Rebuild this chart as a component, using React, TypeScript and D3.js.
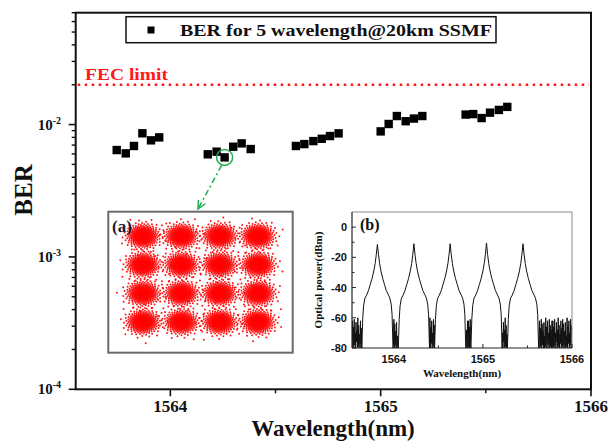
import React, { useMemo } from 'react';
import * as d3 from 'd3';

// ---------- main chart data ----------
const wavelengths = [
  1563.745, 1563.788, 1563.827, 1563.867, 1563.908, 1563.947,
  1564.178, 1564.22, 1564.258, 1564.299, 1564.339, 1564.382,
  1564.597, 1564.637, 1564.68, 1564.72, 1564.759, 1564.8,
  1565.0, 1565.038, 1565.077, 1565.119, 1565.158, 1565.198,
  1565.404, 1565.44, 1565.48, 1565.52, 1565.562, 1565.602,
];
const berValues = [
  6.42e-3, 6.06e-3, 6.89e-3, 8.59e-3, 7.6e-3, 8.0e-3,
  5.96e-3, 6.24e-3, 5.65e-3, 6.8e-3, 7.21e-3, 6.53e-3,
  6.89e-3, 7.12e-3, 7.5e-3, 7.81e-3, 8.19e-3, 8.58e-3,
  8.88e-3, 1.01e-2, 1.16e-2, 1.06e-2, 1.11e-2, 1.16e-2,
  1.19e-2, 1.2e-2, 1.12e-2, 1.23e-2, 1.29e-2, 1.36e-2,
];
const circledIndex = 8;
const fecLimit = 2e-2;
const xDomain = [1563.55, 1566];
const yDomain = [1e-4, 7e-2];
const xMajorTicks = [1564, 1565, 1566];
const xMinorTicks = [1564.5, 1565.5];
const yMajorTicks = [1e-4, 1e-3, 1e-2];
const yExponents = ['-4', '-3', '-2'];
const legendLabel = 'BER for 5 wavelength@20km SSMF';
const fecLabel = 'FEC limit';
const xTitle = 'Wavelength(nm)';
const yTitle = 'BER';

// ---------- inset (a): 16-QAM constellation ----------
const qamLevels = [-3, -1, 1, 3];
const pointsPerCluster = 380;
const clusterSigma = 0.41;

// ---------- inset (b): optical spectrum ----------
const specXDomain = [1563.53, 1566];
const specYDomain = [-80, 10];
const specYTicks = [0, -20, -40, -60, -80];
const specYMinor = [-10, -30, -50, -70];
const specXTicks = [1564, 1565, 1566];
const specXMinor = [1564.5, 1565.5];
const peakCenters = [1563.815, 1564.225, 1564.632, 1565.04, 1565.45];
const peakLevels = [-11.5, -11, -11, -10.5, -11];
const profileOffsets = [
  -0.175, -0.165, -0.155, -0.14, -0.125, -0.1, -0.08, -0.06, -0.04, -0.025, -0.012, 0,
  0.012, 0.025, 0.04, 0.06, 0.08, 0.1, 0.125, 0.14, 0.155, 0.165, 0.175,
];
const profileLevels = [
  -80, -61, -52, -47, -45.5, -42, -38, -34, -29, -24, -18, 0,
  -18, -24, -29, -34, -38, -42, -45, -47, -51, -58, -80,
];
const floorNoise = [
  -80, -62, -79, -66, -80, -61, -78, -70, -80, -63, -76, -68, -80, -60, -79, -65,
  -80, -71, -77, -62, -80, -67, -79, -61, -80, -64, -78, -69, -80, -63, -81, -72,
  -79, -60, -80, -66, -77, -62, -80, -70, -78, -61, -80, -65, -79, -68, -80, -62,
];
const noiseStep = 0.005;

const serif = "'Liberation Serif', 'Times New Roman', serif";
const sans = "'Liberation Sans', Arial, sans-serif";

export default function App() {
  const x = d3.scaleLinear().domain(xDomain).range([75.7, 591]);
  const y = d3.scaleLog().domain(yDomain).range([389.3, 12.7]);
  const left = x.range()[0], right = x.range()[1];
  const bottom = y.range()[0], top = y.range()[1];

  const yMinor: number[] = [];
  for (let d = -4; d <= -2; d++) {
    for (let m = 2; m <= 9; m++) {
      const v = m * Math.pow(10, d);
      if (v <= yDomain[1] * 1.0001) yMinor.push(v);
    }
  }

  // inset a
  const aBox = { x: 108.3, y: 211.7, w: 184.4, h: 141 };
  const xa = d3.scaleLinear().domain([-3, 3]).range([143, 258]);
  const ya = d3.scaleLinear().domain([-3, 3]).range([322, 236]);
  const cloud = useMemo(() => {
    const pts: [number, number][] = [];
    const golden = Math.PI * (3 - Math.sqrt(5));
    qamLevels.forEach((I, ii) => {
      qamLevels.forEach((Q, qi) => {
        for (let i = 0; i < pointsPerCluster; i++) {
          const u = (i + 0.5) / pointsPerCluster;
          const r = clusterSigma * Math.sqrt(-2 * Math.log(1 - u));
          const t = i * golden + (ii * 4 + qi) * 0.7;
          pts.push([I + r * Math.cos(t), Q + r * Math.sin(t)]);
        }
      });
    });
    return pts;
  }, []);

  // inset b
  const xb = d3.scaleLinear().domain(specXDomain).range([352, 572]);
  const yb = d3.scaleLinear().domain(specYDomain).range([348, 212]);
  const spectrum = useMemo(() => {
    const pts: [number, number][] = [];
    let k = 0;
    const addNoise = (from: number, to: number) => {
      for (let w = from; w < to - 1e-9; w += noiseStep) {
        pts.push([w, floorNoise[k % floorNoise.length]]);
        k++;
      }
    };
    const half = profileOffsets[profileOffsets.length - 1];
    addNoise(specXDomain[0], peakCenters[0] - half);
    peakCenters.forEach((c, pi) => {
      profileOffsets.forEach((o, j) => {
        pts.push([c + o, o === 0 ? peakLevels[pi] : profileLevels[j]]);
      });
      const next = pi < peakCenters.length - 1 ? peakCenters[pi + 1] - half : specXDomain[1];
      addNoise(c + half + noiseStep, next);
    });
    return pts;
  }, []);
  const specLine = d3.line<[number, number]>().x(d => xb(d[0])).y(d => yb(Math.max(d[1], -82)));

  // circled point / arrow
  const cx = x(wavelengths[circledIndex]);
  const cy = y(berValues[circledIndex]);
  const a0 = { x: cx - 3, y: cy + 8 };
  const a1 = { x: 198, y: 209 };
  const ang = Math.atan2(a1.y - a0.y, a1.x - a0.x);
  const head = (s: number) => ({
    x: a1.x - 9 * Math.cos(ang + s * 0.45),
    y: a1.y - 9 * Math.sin(ang + s * 0.45),
  });
  const h1 = head(1), h2 = head(-1);

  const fecY = y(fecLimit);

  return (
    <svg width={608} height={441} style={{ position: 'absolute', left: 0, top: 0, background: '#fff' }} fontFamily={serif}>
      <rect x={0} y={0} width={608} height={441} fill="#fff" />
      {/* frame */}
      <rect x={left} y={top} width={right - left} height={bottom - top} fill="none" stroke="#111" strokeWidth={2} />

      {/* y ticks */}
      {yMajorTicks.map((v, i) => (
        <g key={'ym' + i}>
          <line x1={left - 7} x2={left} y1={y(v)} y2={y(v)} stroke="#111" strokeWidth={1.6} />
          <text x={61} y={y(v) + 5} textAnchor="end" fontWeight="bold" fontSize={15} fill="#111">
            10<tspan dy={-6} fontSize={10}>{yExponents[i]}</tspan>
          </text>
        </g>
      ))}
      {yMinor.map((v, i) => (
        <line key={'yn' + i} x1={left - 4} x2={left} y1={y(v)} y2={y(v)} stroke="#111" strokeWidth={1.4} />
      ))}
      {/* x ticks */}
      {xMajorTicks.map((v, i) => (
        <g key={'xm' + i}>
          <line x1={x(v)} x2={x(v)} y1={bottom} y2={bottom + 7} stroke="#111" strokeWidth={1.6} />
          <text x={x(v)} y={412} textAnchor="middle" fontWeight="bold" fontSize={17} fill="#111">{v}</text>
        </g>
      ))}
      {xMinorTicks.map((v, i) => (
        <line key={'xn' + i} x1={x(v)} x2={x(v)} y1={bottom} y2={bottom + 4} stroke="#111" strokeWidth={1.4} />
      ))}

      {/* axis titles */}
      <text x={333} y={435.5} textAnchor="middle" fontWeight="bold" fontSize={23} fill="#111">{xTitle}</text>
      <text transform="translate(32,190) rotate(-90)" textAnchor="middle" fontWeight="bold" fontSize={25} fill="#111">{yTitle}</text>

      {/* FEC limit */}
      <line x1={left + 2} x2={right - 2} y1={fecY} y2={fecY} stroke="#ff1a1a" strokeWidth={2.5} strokeDasharray="2.5 4.5" />
      <text x={85} y={80} fontWeight="bold" fontSize={17} fill="#ff1a1a" textLength={83} lengthAdjust="spacingAndGlyphs">{fecLabel}</text>

      {/* legend */}
      <rect x={126} y={16.7} width={370} height={26} fill="#fff" stroke="#111" strokeWidth={1.5} />
      <rect x={151 - 3.5} y={30 - 3.5} width={7} height={7} fill="#000" />
      <text x={180} y={36} fontWeight="bold" fontSize={17} fill="#111" textLength={312} lengthAdjust="spacingAndGlyphs">{legendLabel}</text>

      {/* data markers */}
      {wavelengths.map((w, i) => (
        <rect key={'p' + i} x={x(w) - 4.2} y={y(berValues[i]) - 4.2} width={8.4} height={8.4} fill="#000" />
      ))}

      {/* circle + arrow */}
      <circle cx={cx} cy={cy} r={8} fill="none" stroke="#1fae4f" strokeWidth={1.5} />
      <line x1={a0.x} y1={a0.y} x2={a1.x} y2={a1.y} stroke="#1fae4f" strokeWidth={1.5} strokeDasharray="6 3 2 3" />
      <polyline points={`${h1.x},${h1.y} ${a1.x},${a1.y} ${h2.x},${h2.y}`} fill="none" stroke="#1fae4f" strokeWidth={1.5} />

      {/* inset a */}
      <defs>
        <clipPath id="clipA"><rect x={aBox.x} y={aBox.y} width={aBox.w} height={aBox.h} /></clipPath>
        <clipPath id="clipB"><rect x={352} y={212} width={220} height={136} /></clipPath>
      </defs>
      <rect x={aBox.x} y={aBox.y} width={aBox.w} height={aBox.h} fill="#fff" stroke="#6a6a6a" strokeWidth={2} />
      <g clipPath="url(#clipA)">
        {cloud.map((p, i) => (
          <circle key={'c' + i} cx={xa(p[0])} cy={ya(p[1])} r={1.0} fill="#ff0000" fillOpacity={0.9} />
        ))}
      </g>
      <text x={112} y={232} fontWeight="bold" fontSize={17} fill="#1b1b2f">(a)</text>

      {/* inset b */}
      <g clipPath="url(#clipB)">
        <path d={specLine(spectrum) || ''} fill="none" stroke="#111" strokeWidth={1} />
      </g>
      <line x1={352} x2={572} y1={212} y2={212} stroke="#8a8a8a" strokeWidth={1} />
      <line x1={572} x2={572} y1={212} y2={348} stroke="#8a8a8a" strokeWidth={1} />
      <line x1={352} x2={352} y1={212} y2={348} stroke="#222" strokeWidth={1.2} />
      <line x1={352} x2={572} y1={348} y2={348} stroke="#222" strokeWidth={1.2} />
      {specYTicks.map((v, i) => (
        <g key={'by' + i}>
          <line x1={352} x2={356} y1={yb(v)} y2={yb(v)} stroke="#222" strokeWidth={1} />
          <text x={347} y={yb(v) + 4} textAnchor="end" fontFamily={sans} fontWeight="bold" fontSize={11} fill="#111">{v === 0 ? '0' : '-' + Math.abs(v)}</text>
        </g>
      ))}
      {specYMinor.map((v, i) => (
        <line key={'byn' + i} x1={352} x2={354.5} y1={yb(v)} y2={yb(v)} stroke="#222" strokeWidth={1} />
      ))}
      {specXTicks.map((v, i) => (
        <g key={'bx' + i}>
          <line x1={xb(v)} x2={xb(v)} y1={348} y2={344} stroke="#222" strokeWidth={1} />
          <text x={xb(v)} y={363} textAnchor="middle" fontFamily={sans} fontWeight="bold" fontSize={11} fill="#111">{v}</text>
        </g>
      ))}
      {specXMinor.map((v, i) => (
        <line key={'bxn' + i} x1={xb(v)} x2={xb(v)} y1={348} y2={345.5} stroke="#222" strokeWidth={1} />
      ))}
      <text x={462} y={377} textAnchor="middle" fontWeight="bold" fontSize={11} fill="#111">Wavelength(nm)</text>
      <text transform="translate(322,280) rotate(-90)" textAnchor="middle" fontWeight="bold" fontSize={11} fill="#111">Optical power(dBm)</text>
      <text x={360} y={230} fontWeight="bold" fontSize={16} fill="#111">(b)</text>
    </svg>
  );
}
